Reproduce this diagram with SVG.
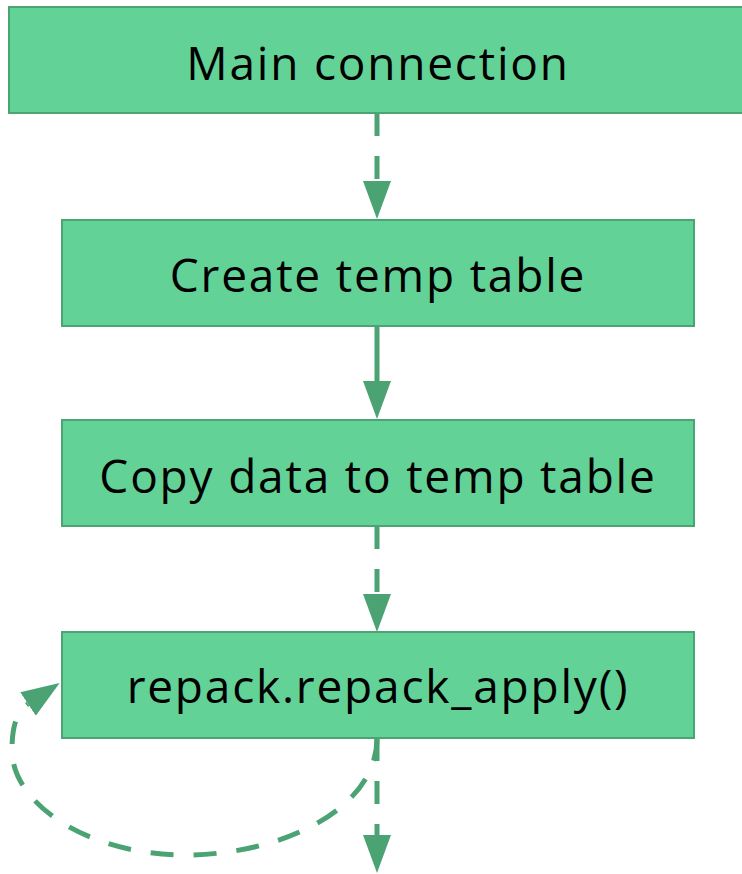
<svg xmlns="http://www.w3.org/2000/svg" width="742" height="874" viewBox="0 0 742 874">
<style>
.box{fill:#63d297;stroke:#4ca474;stroke-width:2}
.lbl{font-family:"Open Sans","Liberation Sans",sans-serif;font-size:46px;letter-spacing:1.8px;fill:#000;text-anchor:middle}
.edge{fill:none;stroke:#4ba373;stroke-width:5}
.dash{stroke-dasharray:23,20}
</style>
<defs>
<marker id="ah" markerUnits="userSpaceOnUse" markerWidth="40" markerHeight="30" refX="0" refY="14" orient="auto" viewBox="0 0 40 28">
<path d="M0,0 L38,14 L0,28 Z" fill="#4ba373"/>
</marker>
</defs>
<g id="connectors">
<path class="edge dash" d="M377,113 V181" marker-end="url(#ah)"/>
<path class="edge" d="M377,326 V381" marker-end="url(#ah)"/>
<path class="edge dash" d="M377,526 V594" marker-end="url(#ah)"/>
<path class="edge dash" d="M377,738 V835" marker-end="url(#ah)"/>
<path class="edge dash" d="M377,738 C377,810 280,855 185,855 C90,855 12,805 12,750 C12,728 16,712 28,704" marker-end="url(#ah)"/>
</g>
<g id="n1"><rect class="box" x="9" y="7" width="745" height="106"/><text class="lbl" x="378" y="80">Main connection</text></g>
<g id="n2"><rect class="box" x="62" y="220" width="632" height="106"/><text class="lbl" x="378" y="292">Create temp table</text></g>
<g id="n3"><rect class="box" x="62" y="420" width="632" height="106"/><text class="lbl" x="378" y="493">Copy data to temp table</text></g>
<g id="n4"><rect class="box" x="62" y="632" width="632" height="106"/><text class="lbl" x="378" y="703">repack.repack_apply()</text></g>
</svg>
